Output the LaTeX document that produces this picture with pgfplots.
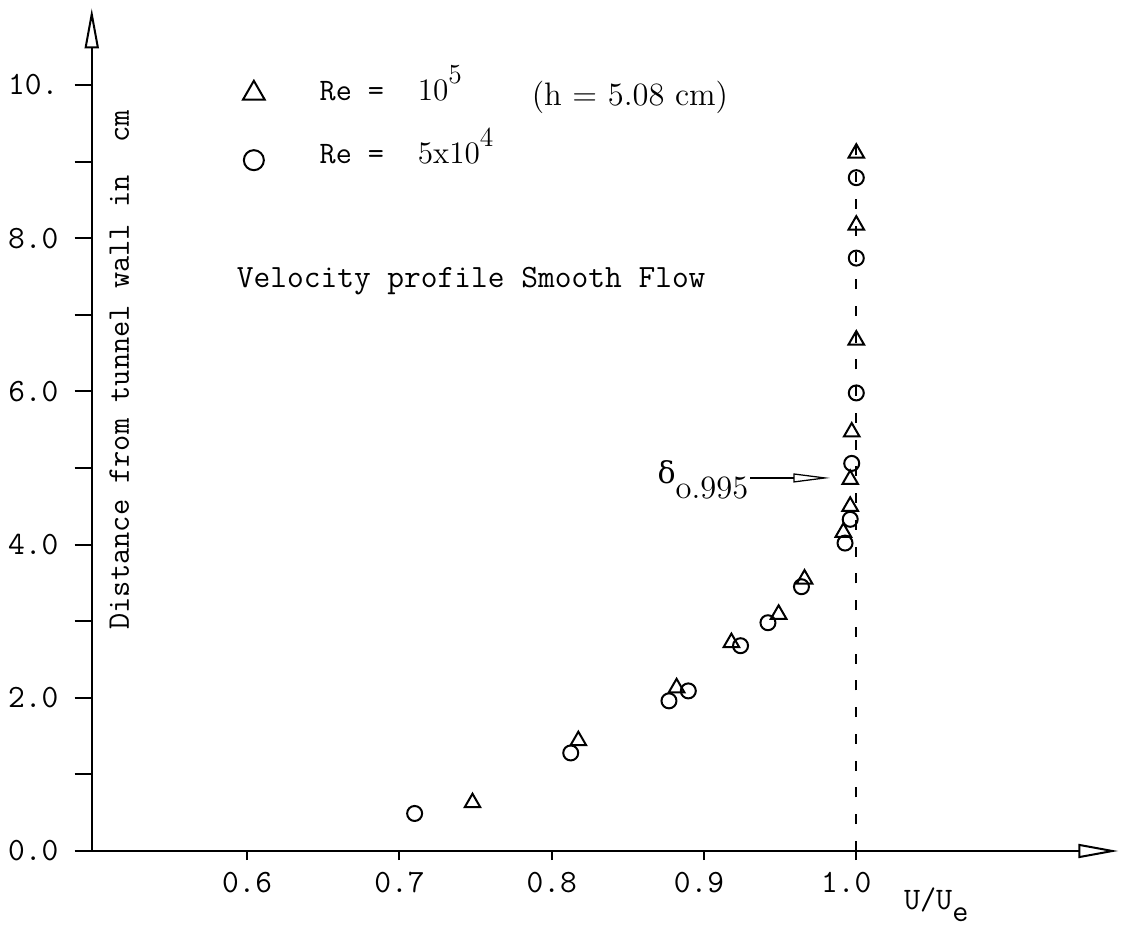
\documentclass[border=0pt]{standalone}
\usepackage{fontspec}
\usepackage{pgfplots}
\pgfplotsset{compat=1.18}
\usetikzlibrary{arrows.meta}
\newfontfamily\grk{DejaVu Serif}

\newcommand{\tfont}{\ttfamily\fontsize{13bp}{15bp}\selectfont}
\newcommand{\lfont}{\ttfamily\fontsize{12.6bp}{14bp}\selectfont}
\newcommand{\rfont}{\rmfamily\fontsize{13bp}{15bp}\selectfont}
\newcommand{\legfont}{\rmfamily\fontsize{12.5bp}{14bp}\selectfont}
\newcommand{\raiseexp}[1]{\raisebox{7bp}{\fontsize{11bp}{12bp}\selectfont #1}}

\pgfplotsset{
  bigmark/.style 2 args={legend image code/.code={\draw[##1, mark size=#1] plot coordinates {(0bp,#2)};}},
}

\begin{document}
\begin{tikzpicture}
\useasboundingbox (-36.7bp,-31.6bp) rectangle (414.1bp,340.4bp);
\begin{axis}[
  at={(0,0)}, anchor=south west,
  x=609.2bp, y=30.64bp,
  xmin=0.498, xmax=1.172, ymin=0, ymax=11,
  clip=false,
  axis x line=bottom, axis y line=left,
  axis line style={line width=0.8bp, -{Triangle[open, length=16bp, width=5.6bp]}},
  tick align=outside,
  major tick length=6.8bp,
  tick style={line width=0.8bp, black},
  xtick={0.6,0.7,0.8,0.9,1.0},
  xticklabels={0.6,0.7,0.8,\kern-4bp 0.9,\kern-8bp 1.0},
  xtick style={/pgfplots/major tick length=3.6bp},
  ytick={0,1,...,10},
  yticklabels={0.0,,2.0,,4.0,,6.0,,8.0,,10.},
  x tick label style={font=\tfont, yshift=2bp},
  y tick label style={font=\tfont, xshift=-3bp},
  legend style={draw=none, fill=none, at={(axis cs:0.5921,10.40)}, anchor=north west,
    font=\legfont, row sep=5.4bp, column sep=20bp},
  legend cell align=left,
]

% dashed line at U/Ue = 1
\addplot[forget plot, line width=0.8bp, dash pattern=on 4bp off 6.7bp]
  coordinates {(1,0) (1,9.33)};

% Re = 1e5
\addplot[only marks, mark=triangle, mark size=3.6bp, line width=0.8bp, bigmark={5bp}{-3.5bp}]
  coordinates {
(0.748,0.63) (0.8175,1.44) (0.882,2.13) (0.918,2.72) (0.949,3.09)
(0.966,3.55) (0.9915,4.16) (0.996,4.50) (0.996,4.85) (0.997,5.47)
(1.000,6.67) (1.000,8.17) (1.000,9.11)
};
\addlegendentry{\texttt{Re = }\ \kern3bp 10\raiseexp{5}}

% Re = 5e4
\addplot[only marks, mark=o, mark size=3bp, line width=0.8bp, bigmark={4bp}{-5bp}]
  coordinates {
(0.710,0.49) (0.8125,1.28) (0.877,1.96) (0.8897,2.09) (0.924,2.68)
(0.942,2.98) (0.964,3.45) (0.9926,4.02) (0.996,4.33) (0.997,5.06)
(1.000,5.98) (1.000,7.74) (1.000,8.79)
};
\addlegendentry{\texttt{Re = }\ \kern3bp 5x10\raiseexp{4}}

\node[anchor=west, font=\rfont] at (axis cs:0.7812,9.84) {(h = 5.08 cm)};
\node[anchor=west, font=\tfont] at (axis cs:0.5875,7.44) {Velocity profile Smooth Flow};
\node[anchor=base west, font=\rfont, inner sep=0pt] at (axis cs:0.8692,4.80)
  {{\grk\fontsize{12bp}{14bp}\selectfont δ}\raisebox{-6bp}{o.995}};
\draw[line width=0.5bp, -{Triangle[open, length=14.7bp, width=3.6bp]}]
  (axis cs:0.9303,4.87) -- (axis cs:0.9828,4.87);
\node[anchor=base west, font=\ttfamily\fontsize{12.5bp}{14bp}\selectfont, inner sep=0pt]
  at (axis cs:1.031,-0.77) {U/U\raisebox{-4.5bp}{e}};
\node[rotate=90, font=\lfont] at (axis cs:0.5160,6.28) {Distance from tunnel wall in\ \ cm};

\end{axis}
\end{tikzpicture}
\end{document}
